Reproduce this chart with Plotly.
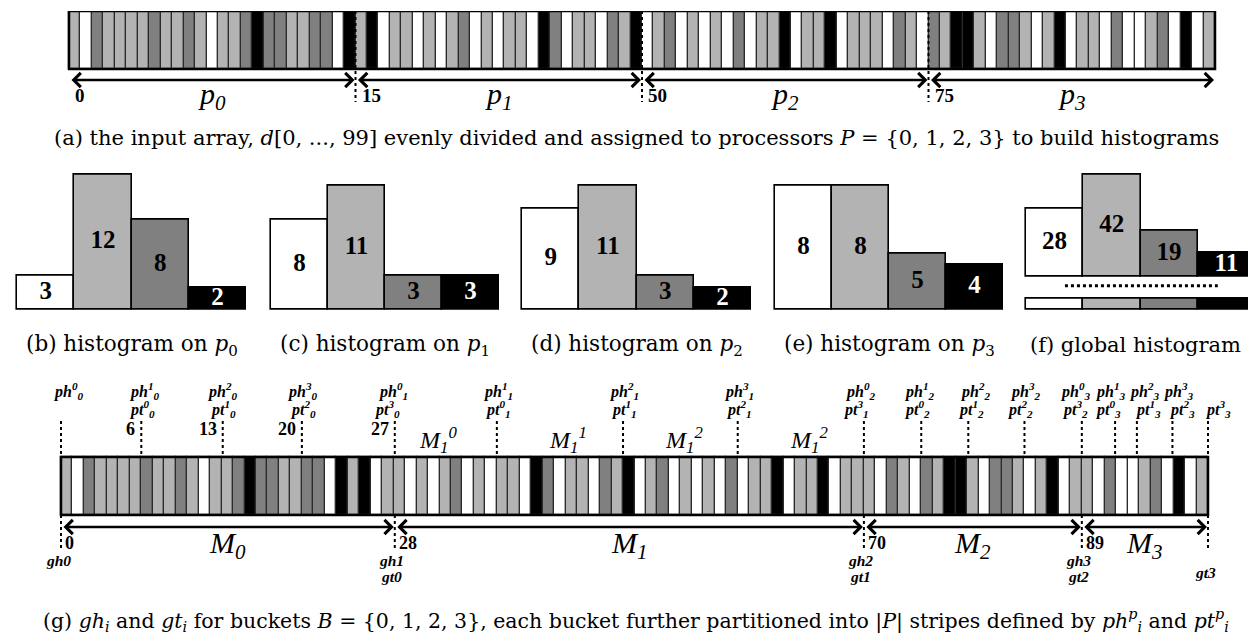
import plotly.graph_objects as go

W, H = 1256, 633
COL = {0: "#ffffff", 1: "#b3b3b3", 2: "#808080", 3: "#000000"}

# ---------------- data ----------------
# (a) input array d[0..99]; value = bucket id (0 white, 1 light, 2 dark, 3 black)
d_p0 = [1, 0, 2, 1, 1, 1, 1, 2, 1, 1, 2, 1, 0, 1, 1, 2, 3, 2, 2, 1, 1, 2, 2, 0, 3]
d_p1 = [1, 3, 0, 1, 1, 0, 1, 0, 1, 2, 0, 1, 0, 1, 1, 0, 3, 2, 0, 1, 1, 0, 2, 1, 3]
d_p2 = [0, 1, 2, 0, 1, 0, 1, 0, 2, 0, 1, 1, 3, 0, 1, 1, 3, 0, 1, 1, 1, 0, 2, 1, 0]
d_p3 = [2, 1, 3, 3, 1, 0, 2, 2, 1, 0, 1, 3, 0, 1, 1, 0, 2, 0, 0, 1, 2, 0, 3, 0, 1]
part_bounds = [0, 25, 50, 75, 100]
part_labels = ["0", "15", "50", "75"]
procs = ["0", "1", "2", "3"]

# (b)-(e) local histograms: labels and heights as drawn
hist_ids = ["b", "c", "d", "e"]
hist_labels = [[3, 12, 8, 2], [8, 11, 3, 3], [9, 11, 3, 2], [8, 8, 5, 4]]
hist_drawn = [[3, 12, 8, 2], [8, 11, 3, 3], [9, 11, 3, 2], [11, 11, 5, 4]]
# (f) global histogram
glob_labels = [28, 42, 19, 11]
glob_drawn = [28, 42, 19, 9.6]
buckets = [0, 1, 2, 3]

# (g) bucket boundaries (as drawn, in cell units) and stripes
g_bounds = [0, 29.1, 70, 89, 100]
g_bound_labels = ["0", "28", "70", "89"]
g_bound_names = [["gh0"], ["gh1", "gt0"], ["gh2", "gt1"], ["gh3", "gt2"], ["gt3"]]
g_stripe_pos = [0, 7, 14.1, 21, 29.1, 38, 49, 59, 70, 75, 79.1, 84, 89, 91.9, 93.8, 96.9, 100]
g_stripe_top = ["ph|0|0", "ph|1|0", "ph|2|0", "ph|3|0", "ph|0|1", "ph|1|1", "ph|2|1",
                "ph|3|1", "ph|0|2", "ph|1|2", "ph|2|2", "ph|3|2", "ph|0|3", "ph|1|3",
                "ph|2|3", "ph|3|3", ""]
g_stripe_bot = ["", "pt|0|0", "pt|1|0", "pt|2|0", "pt|3|0", "pt|0|1", "pt|1|1",
                "pt|2|1", "pt|3|1", "pt|0|2", "pt|1|2", "pt|2|2", "pt|3|2", "pt|0|3",
                "pt|1|3", "pt|2|3", "pt|3|3"]
g_stripe_num = ["", "6", "13", "20", "27", "", "", "", "", "", "", "", "", "", "", "", ""]
g_sub_names = ["M<sub>1</sub><sup>0</sup>", "M<sub>1</sub><sup>1</sup>",
               "M<sub>1</sub><sup>2</sup>", "M<sub>1</sub><sup>2</sup>"]
g_sub_pos = [32.9, 44.2, 54.3, 65.2]

d_all = d_p0 + d_p1 + d_p2 + d_p3

# ---------------- helpers ----------------
def xd(a, b):
    return [max(0.0, a / W), min(1.0, b / W)]


def yd(top, bottom):
    return [max(0.0, 1 - bottom / H), min(1.0, 1 - top / H)]


SERIF = "Liberation Serif"
CAP = "DejaVu Serif"
fig = go.Figure()
layout = dict(width=W, height=H, margin=dict(l=0, r=0, t=0, b=0),
              paper_bgcolor="white", plot_bgcolor="rgba(0,0,0,0)", showlegend=False,
              font=dict(family=SERIF, color="black"))
annotations = []
shapes = []


def ann(**kw):
    kw.setdefault("showarrow", False)
    kw.setdefault("yanchor", "middle")
    kw.setdefault("xanchor", "center")
    annotations.append(kw)


def hide(ax):
    ax.update(visible=False, fixedrange=True)
    return ax


STRIP_H = 58.0


def py(top, px):
    # data y for a pixel row relative to a strip whose cells start at `top`
    return 1 - (px - top) / STRIP_H


def strip(xa, ya, xname, yname, px_l, px_r, top, above, below, values):
    n = len(values)
    pad = 3.0
    u = (px_r - px_l) / n
    layout[xa] = hide(dict(domain=xd(px_l - pad, px_r + pad), range=[-pad / u, n + pad / u], anchor=yname))
    layout[ya] = hide(dict(domain=yd(top - above, top + STRIP_H + below),
                           range=[py(top, top + STRIP_H + below), py(top, top - above)], anchor=xname))
    fig.add_trace(go.Bar(x=[i + 0.5 for i in range(n)], y=[1] * n, width=1,
                         marker=dict(color=[COL[v] for v in values], line=dict(color="#2b2b2b", width=1.2)),
                         xaxis=xname, yaxis=yname, hoverinfo="skip", cliponaxis=False))
    shapes.append(dict(type="rect", xref=xname, yref=yname, x0=0, x1=n, y0=0, y1=1,
                       line=dict(color="black", width=2.5)))


def arrows(xname, yname, bounds, yv):
    for k in range(len(bounds) - 1):
        annotations.append(dict(x=bounds[k + 1], y=yv, ax=bounds[k], ay=yv,
                                xref=xname, yref=yname, axref=xname, ayref=yname, text="", showarrow=True,
                                arrowhead=4, startarrowhead=4, arrowside="end+start", arrowsize=1.1,
                                startarrowsize=1.1, arrowwidth=2.5, standoff=1, startstandoff=1,
                                arrowcolor="black"))


def hist_axes(n, px_l, px_r, top, bottom, ymax):
    pad = 3.0
    ux = (px_r - px_l) / 4.0
    uy = (bottom - top) / ymax
    xa = dict(domain=xd(px_l - pad, px_r + pad), range=[-0.5 - pad / ux, 3.5 + pad / ux], anchor="y%d" % n)
    ya = dict(domain=yd(top - pad, bottom + pad), range=[-pad / uy, ymax + pad / uy], anchor="x%d" % n)
    layout["xaxis%d" % n] = hide(xa)
    layout["yaxis%d" % n] = hide(ya)


# ---------- (a) strip ----------
A_TOP = 3
strip("xaxis", "yaxis", "x", "y", 61, 1207, A_TOP, 0, 40, d_all)
arrows("x", "y", part_bounds, py(A_TOP, 72))
for k in range(4):
    ann(x=part_bounds[k], y=py(A_TOP, 87), xref="x", yref="y", text="<b>%s</b>" % part_labels[k],
        xanchor="left", xshift=4, font=dict(family=SERIF, size=19))
    ann(x=(part_bounds[k] + part_bounds[k + 1]) / 2, y=py(A_TOP, 88), xref="x", yref="y",
        text="<i>p<sub>%s</sub></i>" % procs[k], font=dict(family=SERIF, size=30))
for b in part_bounds[1:-1]:
    shapes.append(dict(type="line", xref="x", yref="y", x0=b, x1=b, y0=1, y1=py(A_TOP, 94),
                       line=dict(color="black", width=2, dash="dot")))

ann(x=0.5, y=1 - 130 / H, xref="paper", yref="paper",
    text="(a) the input array, <i>d</i>[0, ..., 99] evenly divided and assigned to processors "
         "<i>P</i> = {0, 1, 2, 3} to build histograms",
    font=dict(family=CAP, size=21))

# ---------- (b)-(e) histograms ----------
hist_px = [(9, 238), (263, 491), (514, 743), (767, 995)]
txt_col = ["black", "black", "black", "white"]
for n in range(4):
    k = n + 2
    xn, yn = "x%d" % k, "y%d" % k
    hist_axes(k, hist_px[n][0], hist_px[n][1], 166.7, 301.7, 12)
    fig.add_trace(go.Bar(x=buckets, y=hist_drawn[n], width=1, cliponaxis=False,
                         marker=dict(color=[COL[b] for b in buckets], line=dict(color="black", width=1.6)),
                         xaxis=xn, yaxis=yn, hoverinfo="skip"))
    fig.add_trace(go.Scatter(x=buckets, y=[h / 2 for h in hist_drawn[n]], mode="text",
                             text=["<b>%d</b>" % v for v in hist_labels[n]],
                             textfont=dict(family=SERIF, size=25, color=txt_col),
                             xaxis=xn, yaxis=yn, hoverinfo="skip", cliponaxis=False))
    ann(x=sum(hist_px[n]) / 2 / W, y=1 - 337 / H, xref="paper", yref="paper",
        text="(%s) histogram on <i>p</i><sub>%s</sub>" % (hist_ids[n], procs[n]),
        font=dict(family=CAP, size=21.5))

# ---------- (f) global ----------
hist_axes(6, 1018, 1247, 166.7, 268.3, 42)
fig.add_trace(go.Bar(x=buckets, y=glob_drawn, width=1, cliponaxis=False,
                     marker=dict(color=[COL[b] for b in buckets], line=dict(color="black", width=1.6)),
                     xaxis="x6", yaxis="y6", hoverinfo="skip"))
fig.add_trace(go.Scatter(x=buckets, y=[h / 2 for h in glob_drawn], mode="text",
                         text=["<b>%d</b>" % v for v in glob_labels],
                         textfont=dict(family=SERIF, size=25, color=txt_col),
                         xaxis="x6", yaxis="y6", hoverinfo="skip", cliponaxis=False))
hist_axes(7, 1018, 1247, 290.7, 301.7, 1)
fig.add_trace(go.Bar(x=buckets, y=[1, 1, 1, 1], width=1, cliponaxis=False,
                     marker=dict(color=[COL[b] for b in buckets], line=dict(color="black", width=1.6)),
                     xaxis="x7", yaxis="y7", hoverinfo="skip"))
shapes.append(dict(type="line", xref="x6", yref="paper", x0=0.18, x1=2.85, y0=1 - 277.7 / H, y1=1 - 277.7 / H,
                   line=dict(color="black", width=3, dash="dot")))
ann(x=1127 / W, y=1 - 337 / H, xref="paper", yref="paper",
    text="(f) global histogram", font=dict(family=CAP, size=21))

# ---------- (g) ----------
G_TOP = 449
strip("xaxis8", "yaxis8", "x8", "y8", 53, 1200, G_TOP, 80, 125, d_all)


def lab(s):
    base, sup, sub = s.split("|")
    return "<b><i>%s<sup>%s</sup><sub>%s</sub></i></b>" % (base, sup, sub)


gfont = dict(family=SERIF, size=16)
top_shift = [7, 3, 0, 1, -2, 1, 1, 1, -3, -2, 7, 1, -6, -5, 8, 6, 0]
bot_shift = [0, 1, 0, 1, -8, 1, 1, 1, -8, -4, 3, -4, -7, -7, 11, 10, 10]
for i, x in enumerate(g_stripe_pos):
    shapes.append(dict(type="line", xref="x8", yref="y8", x0=x, x1=x, y0=py(G_TOP, 413), y1=1,
                       line=dict(color="black", width=2, dash="dot")))
    if g_stripe_top[i]:
        ann(x=x, y=py(G_TOP, 383), xref="x8", yref="y8", text=lab(g_stripe_top[i]),
            xshift=top_shift[i], font=gfont)
    if g_stripe_bot[i]:
        ann(x=x, y=py(G_TOP, 401), xref="x8", yref="y8", text=lab(g_stripe_bot[i]),
            xshift=bot_shift[i], font=gfont)
    if g_stripe_num[i]:
        ann(x=x, y=py(G_TOP, 421), xref="x8", yref="y8", text="<b>%s</b>" % g_stripe_num[i],
            xanchor="right", xshift=-4, font=dict(family=SERIF, size=18))
for i, pos in enumerate(g_sub_pos):
    ann(x=pos, y=py(G_TOP, 432), xref="x8", yref="y8", text="<i>%s</i>" % g_sub_names[i],
        font=dict(family=SERIF, size=24))

arrows("x8", "y8", g_bounds, py(G_TOP, 519))
for k in range(4):
    ann(x=g_bounds[k], y=py(G_TOP, 535), xref="x8", yref="y8", text="<b>%s</b>" % g_bound_labels[k],
        xanchor="left", xshift=2, font=dict(family=SERIF, size=18))
    ann(x=(g_bounds[k] + g_bounds[k + 1]) / 2, y=py(G_TOP, 537), xref="x8", yref="y8",
        text="<i>M<sub>%d</sub></i>" % k, font=dict(family=SERIF, size=30))
name_rows = [[552], [552, 568], [552, 568], [552, 568], [564]]
gbfont = dict(family=SERIF, size=15.5)
for k, b in enumerate(g_bounds):
    shapes.append(dict(type="line", xref="x8", yref="y8", x0=b, x1=b, y0=0, y1=py(G_TOP, 540),
                       line=dict(color="black", width=2, dash="dot")))
    for j, nm in enumerate(g_bound_names[k]):
        ann(x=b, y=py(G_TOP, name_rows[k][j]), xref="x8", yref="y8", xshift=-3,
            text="<b><i>%s</i></b>" % nm, font=gbfont)

ann(x=0.5, y=1 - 612 / H, xref="paper", yref="paper",
    text="(g) <i>gh<sub>i</sub></i> and <i>gt<sub>i</sub></i> for buckets <i>B</i> = {0, 1, 2, 3}, "
         "each bucket further partitioned into |<i>P</i>| stripes defined by "
         "<i>ph<sup>p</sup><sub>i</sub></i> and <i>pt<sup>p</sup><sub>i</sub></i>",
    font=dict(family=CAP, size=20.5))

layout["annotations"] = annotations
layout["shapes"] = shapes
layout["bargap"] = 0
fig.update_layout(**layout)
fig.write_html("out.html")
